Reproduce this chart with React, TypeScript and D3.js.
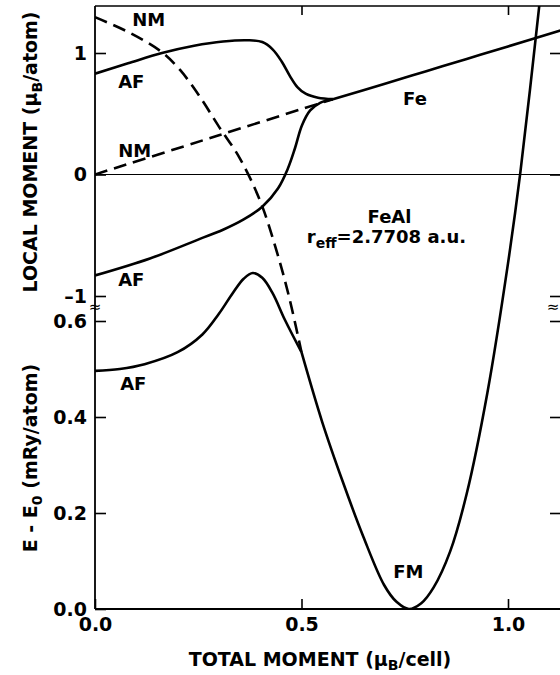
import React, { useEffect, useRef } from "react";
import * as d3 from "d3";

// total moment (mu_B/cell) vs local moment (mu_B/atom), upper panel
const afUpper = [[0, 0.83], [0.08, 0.915], [0.162, 1.0], [0.24, 1.06], [0.31, 1.095], [0.37, 1.105], [0.405, 1.09], [0.43, 1.03], [0.452, 0.93], [0.472, 0.81], [0.49, 0.72], [0.51, 0.665], [0.54, 0.632], [0.576, 0.62]];
const afLower = [[0, -0.831], [0.133, -0.691], [0.254, -0.53], [0.31, -0.455], [0.36, -0.37], [0.405, -0.265], [0.443, -0.115], [0.467, 0.049], [0.484, 0.214], [0.501, 0.403], [0.521, 0.527], [0.545, 0.59], [0.576, 0.62]];
const nmMoment = [[0, 0], [0.3, 0.323], [0.576, 0.62]];
const feMoment = [[0.576, 0.62], [0.7, 0.745], [0.8, 0.848], [0.9, 0.951], [1.0, 1.054], [1.13, 1.188]];

// total moment vs E - E0 (mRy/atom), lower panel (curves run on up past the break)
const afEnergy = [[0, 0.496], [0.06, 0.5], [0.12, 0.51], [0.2, 0.535], [0.26, 0.572], [0.3, 0.615], [0.335, 0.66], [0.36, 0.688], [0.382, 0.7], [0.405, 0.69], [0.43, 0.658], [0.46, 0.602], [0.5, 0.535]];
const nmEnergy = [[0, 1.233], [0.085, 1.2], [0.162, 1.16], [0.206, 1.123], [0.254, 1.067], [0.3, 1.005], [0.35, 0.94], [0.4, 0.85], [0.44, 0.745], [0.47, 0.65], [0.5, 0.535]];
const fmEnergy = [[0.5, 0.535], [0.55, 0.39], [0.6, 0.265], [0.65, 0.15], [0.7, 0.05], [0.73, 0.015], [0.76, 0], [0.79, 0.012], [0.82, 0.045], [0.86, 0.12], [0.9, 0.24], [0.95, 0.45], [1.0, 0.72], [1.03, 0.91], [1.08, 1.29]];

const xTicks = [0, 0.5, 1.0];
const momentTicks = [-1, 0, 1];
const energyTicks = [0, 0.2, 0.4, 0.6];

const FONT = "DejaVu Sans";

export default function App() {
  const ref = useRef<SVGSVGElement>(null);

  useEffect(() => {
    const svg = d3.select(ref.current);
    svg.selectAll("*").remove();

    const left = 95, right = 562, top = 6, bottom = 609;

    const xs = d3.scaleLinear().domain([0, 1]).range([95, 508]);
    const mom = d3.scaleLinear().domain([-1, 1]).range([296, 53]);
    const en = d3.scaleLinear().domain([0, 0.6]).range([609, 321]);

    svg.append("defs").append("clipPath").attr("id", "frame")
      .append("rect")
      .attr("x", left).attr("y", top)
      .attr("width", right - left).attr("height", bottom - top);

    // frame
    svg.append("line").attr("x1", left).attr("x2", left).attr("y1", top).attr("y2", bottom)
      .attr("stroke", "#000").attr("stroke-width", 1.8);
    svg.append("line").attr("x1", left).attr("x2", right).attr("y1", top).attr("y2", top)
      .attr("stroke", "#000").attr("stroke-width", 1.6);
    svg.append("line").attr("x1", left).attr("x2", right).attr("y1", bottom).attr("y2", bottom)
      .attr("stroke", "#000").attr("stroke-width", 1.8);
    // zero line of the local moment
    svg.append("line").attr("x1", left).attr("x2", right).attr("y1", mom(0)).attr("y2", mom(0))
      .attr("stroke", "#000").attr("stroke-width", 1.1);

    const styleAxis = (g: any, size: number) => {
      g.select(".domain").remove();
      g.selectAll(".tick line").attr("stroke", "#000").attr("stroke-width", 1.6);
      g.selectAll(".tick text")
        .attr("fill", "#000")
        .attr("font-family", FONT)
        .attr("font-weight", "bold")
        .attr("font-size", size);
    };

    // left axes
    svg.append("g").attr("transform", `translate(${left},0)`)
      .call(d3.axisLeft(mom).tickValues(momentTicks).tickSize(-11).tickPadding(8)
        .tickFormat((d: any) => (d < 0 ? "–1" : String(d))))
      .call(styleAxis, 19);
    svg.append("g").attr("transform", `translate(${left},0)`)
      .call(d3.axisLeft(en).tickValues(energyTicks).tickSize(-11).tickPadding(8)
        .tickFormat(d3.format(".1f")))
      .call(styleAxis, 19);

    // right axes, ticks only
    svg.append("g").attr("transform", `translate(${right},0)`)
      .call(d3.axisRight(mom).tickValues(momentTicks).tickSize(-12).tickFormat(() => ""))
      .call(styleAxis, 19);
    svg.append("g").attr("transform", `translate(${right},0)`)
      .call(d3.axisRight(en).tickValues(energyTicks.slice(1)).tickSize(-12).tickFormat(() => ""))
      .call(styleAxis, 19);

    // bottom and top axes
    svg.append("g").attr("transform", `translate(0,${bottom})`)
      .call(d3.axisBottom(xs).tickValues(xTicks).tickSize(-10).tickPadding(9)
        .tickFormat(d3.format(".1f")))
      .call(styleAxis, 19);
    svg.append("g").attr("transform", `translate(0,${top})`)
      .call(d3.axisTop(xs).tickValues(xTicks.slice(1)).tickSize(-9).tickFormat(() => ""))
      .call(styleAxis, 19);

    // axis break marks
    [left, 553].forEach((bx) => {
      svg.append("text")
        .attr("x", bx).attr("y", 312)
        .attr("text-anchor", "middle")
        .attr("font-family", FONT)
        .attr("font-size", 15)
        .text("≈");
    });

    const plot = svg.append("g").attr("clip-path", "url(#frame)");

    const momLine = d3.line<number[]>()
      .x((d) => xs(d[0]))
      .y((d) => mom(d[1]))
      .curve(d3.curveCatmullRom.alpha(0.5));
    const enLine = d3.line<number[]>()
      .x((d) => xs(d[0]))
      .y((d) => en(d[1]))
      .curve(d3.curveCatmullRom.alpha(0.5));

    const draw = (data: number[][], gen: any, dashed: boolean) => {
      plot.append("path")
        .attr("d", gen(data))
        .attr("fill", "none")
        .attr("stroke", "#000")
        .attr("stroke-width", 2.6)
        .attr("stroke-linejoin", "round")
        .attr("stroke-dasharray", dashed ? "13,7" : null);
    };

    draw(afUpper, momLine, false);
    draw(afLower, momLine, false);
    draw(nmMoment, momLine, true);
    draw(feMoment, momLine, false);
    draw(afEnergy, enLine, false);
    draw(nmEnergy, enLine, true);
    draw(fmEnergy, enLine, false);

    // curve labels
    const label = (t: string, x: number, y: number) =>
      svg.append("text")
        .attr("x", x).attr("y", y)
        .attr("font-family", FONT)
        .attr("font-weight", "bold")
        .attr("font-size", 18)
        .text(t);

    label("NM", xs(0.09), en(1.214));
    label("AF", xs(0.056), mom(0.71));
    label("NM", xs(0.056), mom(0.144));
    label("AF", xs(0.056), mom(-0.92));
    label("AF", xs(0.061), en(0.456));
    label("Fe", xs(0.746), mom(0.573));
    label("FeAl", xs(0.66), mom(-0.4));
    label("FM", xs(0.722), en(0.065));

    const reff = svg.append("text")
      .attr("x", xs(0.513)).attr("y", mom(-0.565))
      .attr("font-family", FONT)
      .attr("font-weight", "bold")
      .attr("font-size", 18);
    reff.append("tspan").text("r");
    reff.append("tspan").attr("dy", 5).attr("font-size", 14).text("eff");
    reff.append("tspan").attr("dy", -5).text("=2.7708 a.u.");

    // axis titles
    const yTitle = (cx: number, cy: number) =>
      svg.append("text")
        .attr("transform", `translate(${cx},${cy}) rotate(-90)`)
        .attr("text-anchor", "middle")
        .attr("font-family", FONT)
        .attr("font-weight", "bold")
        .attr("font-size", 19);

    const t1 = yTitle(37, 152);
    t1.append("tspan").text("LOCAL MOMENT (μ");
    t1.append("tspan").attr("dy", 5).attr("font-size", 14).text("B");
    t1.append("tspan").attr("dy", -5).text("/atom)");

    const t2 = yTitle(37, 458);
    t2.append("tspan").text("E - E");
    t2.append("tspan").attr("dy", 5).attr("font-size", 14).text("0");
    t2.append("tspan").attr("dy", -5).text(" (mRy/atom)");

    const t3 = svg.append("text")
      .attr("x", 320).attr("y", 666)
      .attr("text-anchor", "middle")
      .attr("font-family", FONT)
      .attr("font-weight", "bold")
      .attr("font-size", 19);
    t3.append("tspan").text("TOTAL MOMENT (μ");
    t3.append("tspan").attr("dy", 4).attr("font-size", 14).text("B");
    t3.append("tspan").attr("dy", -4).text("/cell)");
  }, []);

  return (
    <svg
      ref={ref}
      width={560}
      height={675}
      style={{ position: "absolute", left: 0, top: 0, background: "#fff" }}
    />
  );
}
